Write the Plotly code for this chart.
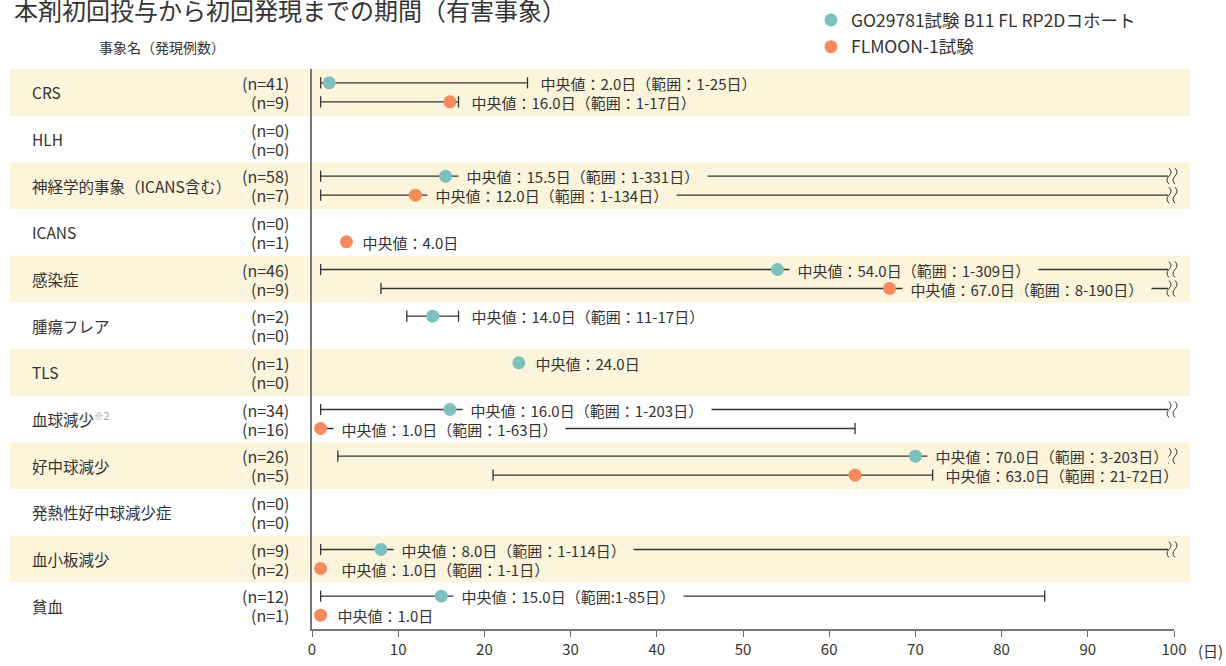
import plotly.graph_objects as go

# event categories, top to bottom
categories = ["CRS", "HLH", "神経学的事象（ICANS含む）", "ICANS", "感染症", "腫瘍フレア", "TLS",
              "血球減少<span style='font-size:14px;color:#999'><sup>※2</sup></span>",
              "好中球減少", "発熱性好中球減少症", "血小板減少", "貧血"]

# GO29781 B11 FL RP2D cohort
n_go = [41, 0, 58, 0, 46, 2, 1, 34, 26, 0, 9, 12]
med_go = [2.0, None, 15.5, None, 54.0, 14.0, 24.0, 16.0, 70.0, None, 8.0, 15.0]
lo_go = [1, None, 1, None, 1, 11, None, 1, 3, None, 1, 1]
hi_go = [25, None, 331, None, 309, 17, None, 203, 203, None, 114, 85]

# FLMOON-1
n_fl = [9, 0, 7, 1, 9, 0, 0, 16, 5, 0, 2, 1]
med_fl = [16.0, None, 12.0, 4.0, 67.0, None, None, 1.0, 63.0, None, 1.0, 1.0]
lo_fl = [1, None, 1, None, 8, None, None, 1, 21, None, 1, None]
hi_fl = [17, None, 134, None, 190, None, None, 63, 72, None, 1, None]

x_ticks = [0, 10, 20, 30, 40, 50, 60, 70, 80, 90, 100]

W, H = 1226, 666
L, R, T, B = 312, 52, 69, 37
PX_DAY = (W - L - R) / 100
ROW_OFF = 9.5 / ((H - T - B) / len(categories))
CLIP = 99.3
BAND = "#fdf4dc"
INK = "#333333"
FONT = "Noto Sans CJK JP"
TEAL = "#7cc1bd"
ORANGE = "#f68a5c"
SQUIGGLE = "M-5,-8 Q-9,-4 -5,0 Q-1,4 -5,8 M1,-8 Q-3,-4 1,0 Q5,4 1,8"
PAD = "\u2002"


def text_px(s, size=15):
    return sum(size if ord(c) > 0x2000 else size * 0.56 for c in s)


def px_x(px):
    return (px - L) / (W - L - R)


def px_y(px):
    return 1 + (T - px) / (H - T - B)


def row_paper(y):
    return 1 - (y + 0.5) / len(categories)


fig = go.Figure()
annotations = []
shapes = []

for i in range(len(categories)):
    if i % 2 == 0:
        shapes.append(dict(type="rect", xref="paper", yref="y", x0=px_x(10), x1=px_x(1190),
                           y0=i - 0.5, y1=i + 0.5, fillcolor=BAND, line_width=0, layer="below"))
    annotations.append(dict(xref="paper", yref="y", x=px_x(30), y=i, xanchor="left", text=categories[i],
                            showarrow=False, font=dict(size=15.5, color=INK)))

series = [
    ("GO29781試験 B11 FL RP2Dコホート", TEAL, n_go, med_go, lo_go, hi_go, -ROW_OFF),
    ("FLMOON-1試験", ORANGE, n_fl, med_fl, lo_fl, hi_fl, ROW_OFF),
]

for name, color, n, med, lo, hi, off in series:
    lx, ly, cx, cy, mx, my = [], [], [], [], [], []
    for i in range(len(categories)):
        y = i + off
        annotations.append(dict(xref="paper", yref="y", x=px_x(291), y=y, xanchor="right",
                                text=f"(n={n[i]})", showarrow=False, font=dict(size=16, color=INK)))
        if med[i] is None:
            continue
        mx.append(med[i])
        my.append(y)
        label = f"中央値：{med[i]:.1f}日"
        if lo[i] is not None:
            colon = ":" if i == len(categories) - 1 and off < 0 else "："
            label += f"（範囲{colon}{lo[i]}-{hi[i]}日）"
            lx += [lo[i], min(hi[i], CLIP), None]
            ly += [y, y, None]
            cx.append(lo[i])
            cy.append(y)
            if hi[i] <= 100:
                cx.append(hi[i])
                cy.append(y)
            else:
                # break mark where the range runs past the axis end
                shapes.append(dict(type="path", xref="paper", yref="paper", xsizemode="pixel",
                                   ysizemode="pixel", xanchor=1, yanchor=row_paper(y), path=SQUIGGLE,
                                   line=dict(color=INK, width=1), layer="above"))
        width_days = text_px(label) / PX_DAY
        if lo[i] is None:
            anchor, shift = med[i], 8
        elif med[i] + width_days + 3 < hi[i] or hi[i] <= med[i]:
            anchor, shift = med[i], 12
        else:
            anchor, shift = hi[i], 4
        # keep the break mark visible when the label runs up to the axis end
        end_px = anchor * PX_DAY + shift + text_px(label) + 15
        tail = "" if end_px > 100 * PX_DAY - 10 else PAD
        # label box masks the range line behind the text
        annotations.append(dict(xref="x", yref="y", x=anchor, y=y, xanchor="left", xshift=shift,
                                text=PAD + label + tail, showarrow=False, font=dict(size=15, color=INK),
                                height=20, borderpad=0,
                                bgcolor=BAND if i % 2 == 0 else "white"))
    fig.add_trace(go.Scatter(x=lx, y=ly, mode="lines", line=dict(color=INK, width=1.3),
                             showlegend=False, hoverinfo="skip", cliponaxis=False))
    fig.add_trace(go.Scatter(x=cx, y=cy, mode="markers", showlegend=False, hoverinfo="skip",
                             marker=dict(symbol="line-ns", size=8, line=dict(color=INK, width=1.3)),
                             cliponaxis=False))
    fig.add_trace(go.Scatter(x=mx, y=my, mode="markers", name=name, legendgroup=name, cliponaxis=False,
                             marker=dict(size=13, color=color)))

annotations += [
    dict(xref="paper", yref="paper", x=px_x(12), y=px_y(10), xanchor="left", yanchor="middle",
         text="本剤初回投与から初回発現までの期間（有害事象）", showarrow=False, font=dict(size=24, color=INK)),
    dict(xref="paper", yref="paper", x=px_x(97), y=px_y(47), xanchor="left", yanchor="middle",
         text="事象名（発現例数）", showarrow=False, font=dict(size=14, color=INK)),
    dict(xref="paper", yref="paper", x=px_x(1196), y=px_y(650), xanchor="left", yanchor="middle",
         text="(日)", showarrow=False, font=dict(size=15, color=INK)),
]

fig.update_xaxes(range=[0, 100], tickvals=x_ticks, ticks="outside", ticklen=6, tickcolor="#666",
                 showline=True, linecolor="#777", linewidth=1.5, showgrid=False, zeroline=False,
                 tickfont=dict(size=15, color=INK))
fig.update_yaxes(range=[len(categories) - 0.5, -0.5], showticklabels=False, showgrid=False,
                 zeroline=False, showline=True, linecolor="#777", linewidth=2)
fig.update_layout(
    width=W, height=H, margin=dict(l=L, r=R, t=T, b=B, autoexpand=False),
    plot_bgcolor="rgba(0,0,0,0)", paper_bgcolor="white",
    font=dict(family=FONT, color=INK),
    shapes=shapes, annotations=annotations,
    legend=dict(x=px_x(811), y=px_y(2), xanchor="left", yanchor="top", itemwidth=30,
                font=dict(size=17.5, color=INK), bgcolor="rgba(0,0,0,0)", tracegroupgap=1),
)

# drop the default page margin so the figure sits at the window's top-left corner
fig.write_html("out.html", config={"displayModeBar": False},
               post_script="document.body.style.margin='0';")
